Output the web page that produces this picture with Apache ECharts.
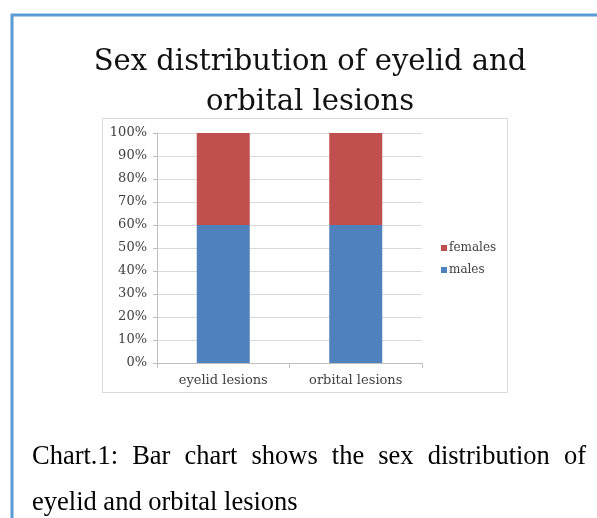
<!DOCTYPE html>
<html>
<head>
<meta charset="utf-8">
<script src="https://cdn.jsdelivr.net/npm/echarts@6/dist/echarts.min.js"></script>
<style>
  html, body { margin: 0; padding: 0; background: #fff; }
  #root { width: 597px; height: 518px; }
</style>
</head>
<body>
<div id="root"></div>
<script>
// data
var categories = ['eyelid lesions', 'orbital lesions'];
var males = [60, 60];
var females = [40, 40];
var captionLine1 = 'Chart.1: Bar chart shows the sex distribution of';
var captionLine2 = 'eyelid and orbital lesions';

var root = document.getElementById('root');
var myCharts = echarts.init(root);

var serif = '"DejaVu Serif", Georgia, serif';
var capFont = '"Liberation Serif", "Times New Roman", serif';
var capSize = 26.5;

// justified first caption line, word by word
function captionWords(text, x0, x1, y) {
  var cv = document.createElement('canvas').getContext('2d');
  cv.font = capSize + 'px ' + capFont;
  var words = text.split(' ');
  var total = 0;
  words.forEach(function (w) { total += cv.measureText(w).width; });
  var gap = (x1 - x0 - total) / (words.length - 1);
  var x = x0;
  var out = [];
  words.forEach(function (w) {
    out.push({
      type: 'text', x: x, y: y,
      style: { text: w, font: capSize + 'px ' + capFont, fill: '#000', verticalAlign: 'middle' }
    });
    x += cv.measureText(w).width + gap;
  });
  return out;
}

var graphics = [
  // blue frame
  { type: 'line', shape: { x1: 11, y1: 15, x2: 597, y2: 15 }, style: { stroke: '#5b9bd5', lineWidth: 3 } },
  { type: 'line', shape: { x1: 12, y1: 14, x2: 12, y2: 518 }, style: { stroke: '#5b9bd5', lineWidth: 3 } },
  // chart area box
  { type: 'rect', shape: { x: 102.5, y: 118.5, width: 405, height: 274 }, style: { fill: 'none', stroke: '#d9d9d9', lineWidth: 1 }, z: -1 },
  { type: 'text', x: 32, y: 503, style: { text: captionLine2, font: capSize + 'px ' + capFont, fill: '#000', verticalAlign: 'middle' } }
].concat(captionWords(captionLine1, 32, 586, 457));

var option = {
  animation: false,
  title: {
    text: 'Sex distribution of eyelid and\norbital lesions',
    left: 305,
    top: 37,
    textAlign: 'center',
    textStyle: { fontFamily: serif, fontSize: 29, fontWeight: 'normal', color: '#111', lineHeight: 40 }
  },
  legend: {
    orient: 'vertical',
    left: 436,
    top: 237,
    itemWidth: 6,
    itemHeight: 6,
    itemGap: 10,
    icon: 'rect',
    data: ['females', 'males'],
    textStyle: { fontFamily: serif, fontSize: 12, color: '#404040', padding: [0, 0, 0, -3] }
  },
  grid: { left: 157, right: 175, top: 133, bottom: 155, containLabel: false },
  xAxis: {
    type: 'category',
    data: categories,
    axisLine: { lineStyle: { color: '#bfbfbf' } },
    axisTick: { show: true, length: 5, lineStyle: { color: '#bfbfbf' } },
    axisLabel: { fontFamily: serif, fontSize: 13, color: '#404040', margin: 11 }
  },
  yAxis: {
    type: 'value',
    min: 0,
    max: 100,
    interval: 10,
    axisLine: { show: true, lineStyle: { color: '#bfbfbf' } },
    axisTick: { show: true, length: 4, lineStyle: { color: '#bfbfbf' } },
    splitLine: { lineStyle: { color: '#d9d9d9' } },
    axisLabel: { formatter: '{value}%', fontFamily: serif, fontSize: 13, color: '#404040', margin: 10 }
  },
  series: [
    {
      name: 'males', type: 'bar', stack: 'sex', barWidth: '40%',
      itemStyle: { color: '#4f81bd' },
      data: males
    },
    {
      name: 'females', type: 'bar', stack: 'sex', barWidth: '40%',
      itemStyle: { color: '#c0504d' },
      data: females
    }
  ],
  graphic: graphics
};
myCharts.setOption(option);
</script>
</body>
</html>
